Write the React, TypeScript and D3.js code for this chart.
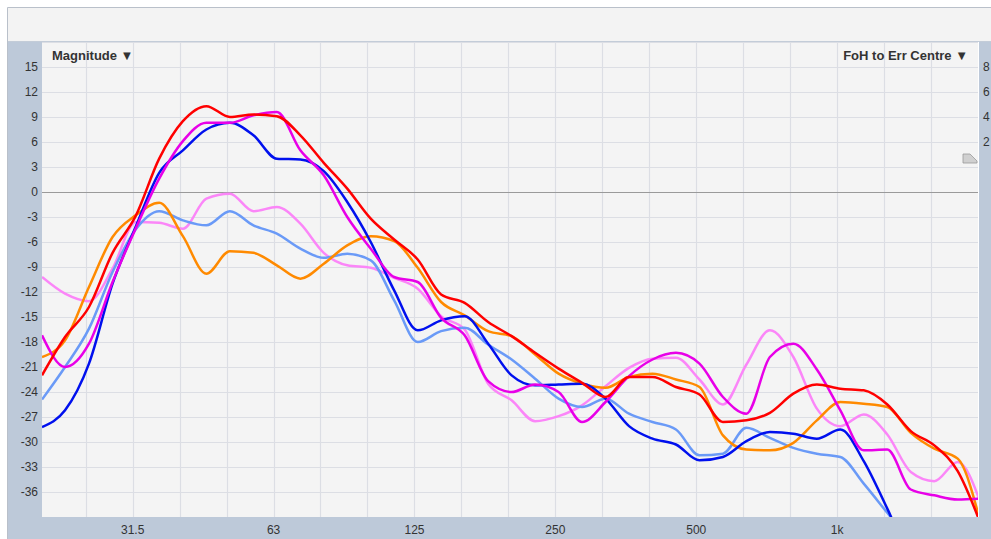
import * as d3 from 'd3';
import React, { useEffect, useRef } from 'react';

// 1/6 octave sample points (Hz)
const freqs = [20, 22.4, 25.2, 28.3, 31.7, 35.6, 40, 44.9, 50.4, 56.6, 63.5, 71.3, 80, 89.8, 100.8, 113.1, 127, 142.5, 160, 179.6, 201.6, 226.3, 254, 285.1, 320, 359.2, 403.2, 452.5, 508, 570.2, 640, 718.4, 806.3, 905.1, 1016, 1140, 1280, 1437, 1613, 1810, 2032];

const red = [-22.0, -17.4, -13.8, -7.3, -2.9, 4.0, 8.5, 10.3, 9.0, 9.3, 9.1, 6.8, 3.5, 0.4, -3.2, -5.7, -8.1, -12.3, -13.3, -15.6, -17.3, -19.3, -21.2, -22.9, -24.6, -22.2, -22.2, -23.4, -24.3, -27.6, -27.4, -26.5, -24.2, -23.1, -23.6, -23.8, -25.5, -28.7, -30.4, -33.5, -40];
const orange = [-19.8, -17.8, -11.4, -5.4, -2.8, -1.3, -5.3, -9.8, -7.1, -7.3, -8.8, -10.4, -8.6, -6.4, -5.3, -5.9, -9.1, -13.2, -14.8, -16.7, -17.3, -19.5, -21.8, -23.0, -23.5, -22.2, -21.8, -22.5, -23.4, -29.2, -30.9, -31.0, -30.1, -27.4, -25.2, -25.4, -25.8, -28.9, -30.8, -32.0, -40];
const magenta = [-17.2, -21.0, -18.2, -10.8, -4.4, 1.6, 6.1, 8.3, 8.3, 9.2, 9.6, 5.0, 2.0, -3.0, -6.8, -10.2, -10.8, -15.1, -17.2, -22.7, -24.0, -23.1, -24.0, -27.6, -25.2, -22.1, -20.1, -19.3, -20.6, -24.6, -26.6, -19.8, -18.2, -21.3, -26.2, -31.0, -30.9, -35.7, -36.4, -36.9, -36.8];
const pink = [-10.2, -12.2, -13.1, -9.2, -3.6, -3.7, -4.4, -0.8, -0.2, -2.3, -1.8, -3.8, -7.3, -8.8, -9.1, -10.3, -11.6, -14.9, -16.5, -23.0, -25.0, -27.5, -26.9, -25.6, -23.3, -21.1, -20.0, -19.9, -22.5, -25.5, -20.7, -16.6, -19.8, -26.0, -28.1, -26.7, -29.1, -33.6, -34.7, -32.4, -37.5];
const blue = [-28.2, -26.2, -20.6, -11.0, -4.2, 2.3, 5.0, 7.5, 8.3, 6.8, 4.0, 3.9, 2.5, -1.2, -6.0, -11.8, -16.6, -15.4, -14.9, -18.2, -22.0, -23.2, -23.1, -23.0, -24.8, -28.1, -29.6, -30.3, -32.2, -31.8, -29.9, -28.8, -29.0, -29.6, -28.5, -32.3, -38.0, -44, -46, -48, -50];
const lightBlue = [-24.9, -21.0, -16.4, -9.6, -4.5, -2.3, -3.4, -4.0, -2.3, -4.0, -5.0, -6.8, -7.9, -7.4, -8.2, -13.0, -18.0, -16.7, -16.3, -18.3, -20.1, -22.4, -24.8, -25.8, -24.8, -26.6, -27.6, -28.5, -31.6, -31.4, -28.3, -29.5, -30.7, -31.4, -31.8, -35.0, -38.5, -42, -45, -47, -49];

const yTicks = [15, 12, 9, 6, 3, 0, -3, -6, -9, -12, -15, -18, -21, -24, -27, -30, -33, -36];
const gridFreqs = [24.8, 31.25, 39.4, 49.6, 62.5, 78.7, 99.2, 125, 157.5, 198.4, 250, 315, 396.9, 500, 630, 793.7, 1000, 1260, 1587];
const xLabelFreqs = [31.25, 62.5, 125, 250, 500, 1000];
const xLabels = ['31.5', '63', '125', '250', '500', '1k'];
const rightLabels = ['8', '6', '4', '2'];

const series = [
  { name: 'pink', values: pink, color: '#fb86f8' },
  { name: 'lightBlue', values: lightBlue, color: '#6a9af7' },
  { name: 'orange', values: orange, color: '#ff8a00' },
  { name: 'blue', values: blue, color: '#0010ee' },
  { name: 'magenta', values: magenta, color: '#e800e8' },
  { name: 'red', values: red, color: '#ff0000' },
];

export default function App() {
  const ref = useRef<SVGSVGElement>(null);

  useEffect(() => {
    if (!ref.current) return;
    const width = 991;
    const height = 539;
    const left = 42, right = 978, top = 42, bottom = 517;
    const panel = '#bdc9d9';
    const font = '"Liberation Sans", Arial, sans-serif';

    const svg = d3.select(ref.current);
    svg.selectAll('*').remove();
    svg.attr('width', width).attr('height', height);

    const x = d3.scaleLog().domain([20, 2000]).range([left, right]);
    const y = d3.scaleLinear().domain([-39, 18]).range([bottom, top]);

    svg.append('rect').attr('width', width).attr('height', height).attr('fill', '#ffffff');
    // top bar
    svg.append('rect').attr('x', 8).attr('y', 8).attr('width', width - 8).attr('height', top - 8).attr('fill', '#f3f3f3');
    svg.append('line').attr('x1', 7.5).attr('x2', width).attr('y1', 7.5).attr('y2', 7.5).attr('stroke', '#b9c0ca');
    svg.append('line').attr('x1', 7.5).attr('x2', 7.5).attr('y1', 7.5).attr('y2', height).attr('stroke', '#b9c0ca');
    // panels
    svg.append('rect').attr('x', 8).attr('y', top).attr('width', left - 8).attr('height', height - top).attr('fill', panel);
    svg.append('rect').attr('x', 8).attr('y', bottom).attr('width', width - 8).attr('height', height - bottom).attr('fill', panel);
    svg.append('rect').attr('x', right + 1).attr('y', top).attr('width', width - right).attr('height', height - top).attr('fill', panel);
    // plot area
    svg.append('rect').attr('x', left).attr('y', top).attr('width', right - left).attr('height', bottom - top).attr('fill', '#f4f4f4');
    svg.append('line').attr('x1', 8).attr('x2', width).attr('y1', top - 0.5).attr('y2', top - 0.5).attr('stroke', '#c3ccd8');

    const grid = svg.append('g');
    grid.selectAll('.hg').data(yTicks.concat([18])).enter().append('line')
      .attr('x1', left).attr('x2', right)
      .attr('y1', d => Math.round(y(d)) + 0.5).attr('y2', d => Math.round(y(d)) + 0.5)
      .attr('stroke', d => (d === 0 ? '#9a9a9a' : '#dcdee4'))
      .attr('stroke-width', 1.2);
    grid.selectAll('.vg').data(gridFreqs).enter().append('line')
      .attr('y1', top).attr('y2', bottom)
      .attr('x1', d => Math.round(x(d)) + 0.5).attr('x2', d => Math.round(x(d)) + 0.5)
      .attr('stroke', '#dcdee4')
      .attr('stroke-width', 1.2);
    // redraw zero line on top of verticals
    grid.append('line').attr('x1', left).attr('x2', right)
      .attr('y1', Math.round(y(0)) + 0.5).attr('y2', Math.round(y(0)) + 0.5)
      .attr('stroke', '#9a9a9a');

    // y labels
    svg.append('g').selectAll('text').data(yTicks).enter().append('text')
      .attr('x', 38).attr('y', d => y(d) + 4)
      .attr('text-anchor', 'end')
      .attr('font-family', font).attr('font-size', 12).attr('fill', '#333')
      .text(d => String(d));

    // x labels
    svg.append('g').selectAll('text').data(xLabelFreqs).enter().append('text')
      .attr('x', d => x(d)).attr('y', 534)
      .attr('text-anchor', 'middle')
      .attr('font-family', font).attr('font-size', 12).attr('fill', '#333')
      .text((d, i) => xLabels[i]);

    // right axis labels
    svg.append('g').selectAll('text').data(rightLabels).enter().append('text')
      .attr('x', 983).attr('y', (d, i) => y(yTicks[i]) + 4)
      .attr('font-family', font).attr('font-size', 12).attr('fill', '#333')
      .text(d => d);

    svg.append('defs').append('clipPath').attr('id', 'plotClip')
      .append('rect').attr('x', left).attr('y', top).attr('width', right - left).attr('height', bottom - top);

    const line = d3.line<number>()
      .x((d, i) => x(freqs[i]))
      .y(d => y(d))
      .curve(d3.curveMonotoneX);

    svg.append('g').attr('clip-path', 'url(#plotClip)')
      .selectAll('path').data(series).enter().append('path')
      .attr('d', d => line(d.values))
      .attr('fill', 'none')
      .attr('stroke', d => d.color)
      .attr('stroke-width', 2.5)
      .attr('stroke-linejoin', 'round');

    // titles
    svg.append('text').attr('x', 52).attr('y', 60)
      .attr('font-family', font).attr('font-size', 13).attr('font-weight', 'bold').attr('fill', '#333')
      .text('Magnitude ▼');
    svg.append('text').attr('x', 968).attr('y', 60).attr('text-anchor', 'end')
      .attr('font-family', font).attr('font-size', 13).attr('font-weight', 'bold').attr('fill', '#333')
      .text('FoH to Err Centre ▼');

    // small marker flag
    svg.append('polygon')
      .attr('points', '963,154 970,154 977,161 977,163 963,163')
      .attr('fill', '#d0d0d0').attr('stroke', '#9a9a9a').attr('stroke-width', 0.8);
  }, []);

  return <svg ref={ref} style={{ position: 'absolute', left: 0, top: 0, display: 'block' }} />;
}
